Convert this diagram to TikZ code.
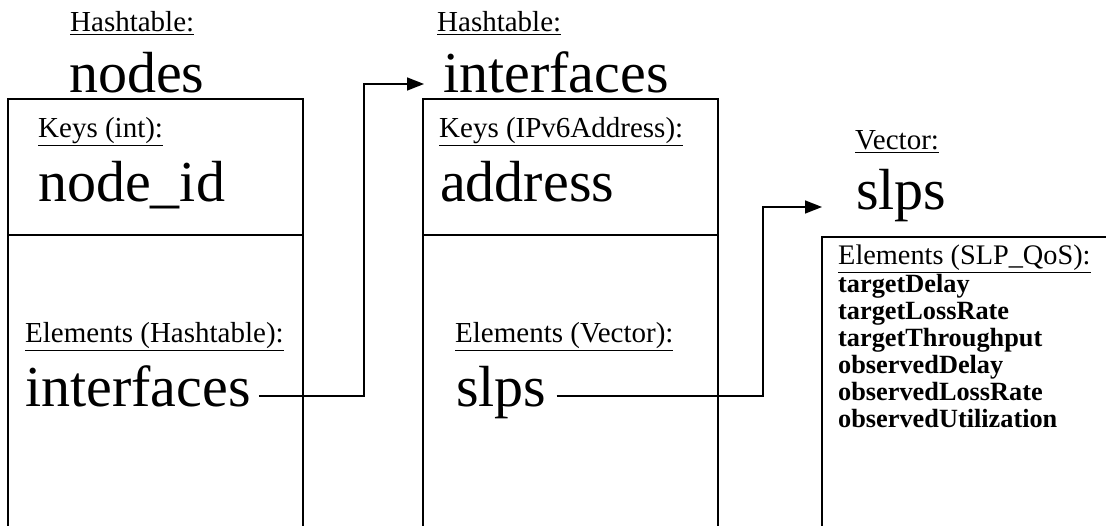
\documentclass[tikz,border=0pt]{standalone}
\usepackage{fontspec}
\setmainfont{Liberation Serif}
\usetikzlibrary{arrows.meta,calc}
\tikzset{
  lbl/.style={anchor=base west,inner sep=0pt,font=\fontsize{29}{34}\selectfont},
  big/.style={anchor=base west,inner sep=0pt,font=\fontsize{58}{66}\selectfont},
  item/.style={anchor=base west,inner sep=0pt,font=\fontsize{26.3}{28}\selectfont\bfseries},
  boxline/.style={line width=1.7pt},
  conn/.style={line width=1.6pt,-{Triangle[length=17pt,width=13pt]}},
}
\begin{document}
\begin{tikzpicture}[x=1pt,y=-1pt]
\useasboundingbox (0,0) rectangle (1106,526);
% boxes (open at the bottom / right, as cut off in the reference)
\draw[boxline] (8,526) |- (303,99) -- (303,526);
\draw[boxline] (8,235) -- (303,235);
\draw[boxline] (423,526) |- (718,99) -- (718,526);
\draw[boxline] (423,235) -- (718,235);
\draw[boxline] (822,526) |- (1106,237);
% table 1
\node[lbl] (h1) at (70,32) {\underline{Hashtable:}};
\node[big] (t1) at (69,93) {nodes};
\node[lbl] (k1) at (38,138) {\underline{Keys (int):}};
\node[big] (kv1) at (38,202) {node\_id};
\node[lbl] (e1) at (25,343) {\underline{Elements (Hashtable):}};
\node[big] (ev1) at (25,407) {interfaces};
% table 2
\node[lbl] (h2) at (437,32) {\underline{Hashtable:}};
\node[big] (t2) at (443,93) {interfaces};
\node[lbl] (k2) at (439,138) {\underline{Keys (IPv6Address):}};
\node[big] (kv2) at (440,202) {address};
\node[lbl] (e2) at (455,343) {\underline{Elements (Vector):}};
\node[big] (ev2) at (456,407) {slps};
% vector
\node[lbl] (h3) at (855,150) {\underline{Vector:}};
\node[big] (t3) at (856,210) {slps};
\node[lbl,font=\fontsize{28.3}{32}\selectfont] (e3) at (838,265) {\underline{Elements (SLP\_QoS):}};
\node[item] (i1) at (838,293) {targetDelay};
\node[item] (i2) at (838,320) {targetLossRate};
\node[item] (i3) at (838,347) {targetThroughput};
\node[item] (i4) at (838,374) {observedDelay};
\node[item] (i5) at (838,401) {observedLossRate};
\node[item] (i6) at (838,428) {observedUtilization};
% connectors
\coordinate (j1) at (364,396);
\coordinate (j2) at (763,396);
\draw[conn] ([shift={(8,-11)}]ev1.base east) -- (j1) |- ([shift={(-19,-9)}]t2.base west);
\draw[conn] ([shift={(10,-11)}]ev2.base east) -- (j2) |- ([shift={(-34,-3)}]t3.base west);
\end{tikzpicture}
\end{document}
